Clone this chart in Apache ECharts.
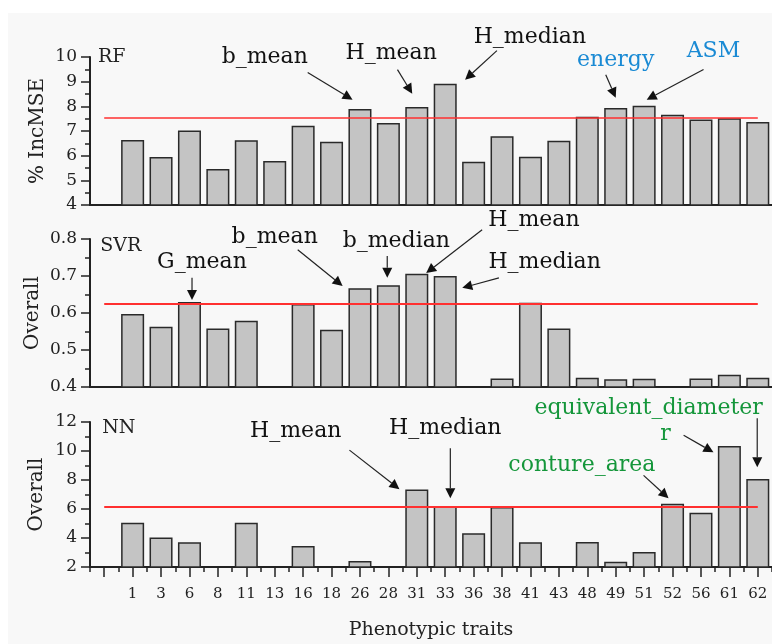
<!DOCTYPE html>
<html><head><meta charset="utf-8">
<script src="https://cdn.jsdelivr.net/npm/echarts@6/dist/echarts.min.js"></script>
<style>html,body{margin:0;padding:0;background:#fff}#c{width:772px;height:644px}</style>
</head><body><div id="c"></div>
<script>
// ---------- data ----------
const categories = ['', '1','3','6','8','11','13','16','18','26','28','31','33','36','38','41','43','48','49','51','52','56','61','62'];
const rfValues  = [null, 6.64, 5.95, 7.02, 5.46, 6.63, 5.78, 7.21, 6.56, 7.89, 7.32, 7.97, 8.92, 5.75, 6.79, 5.96, 6.60, 7.58, 7.93, 8.02, 7.66, 7.47, 7.52, 7.36];
const svrValues = [null, 0.597, 0.563, 0.630, 0.558, 0.579, null, 0.624, 0.555, 0.667, 0.675, 0.706, 0.700, null, 0.423, 0.628, 0.558, 0.425, 0.421, 0.422, null, 0.423, 0.433, 0.425];
const nnValues  = [null, 5.06, 4.03, 3.70, null, 5.05, null, 3.45, null, 2.41, null, 7.34, 6.21, 4.32, 6.14, 3.70, null, 3.72, 2.37, 3.03, 6.37, 5.75, 10.34, 8.07];
const thresholds = [7.52, 0.624, 6.14];
const panelNames = ['RF', 'SVR', 'NN'];
const yAxisNames = ['% IncMSE', 'Overall', 'Overall'];
const yRanges = [[4, 10, 1], [0.4, 0.8, 0.1], [2, 12, 2]];
const xAxisName = 'Phenotypic traits';

// annotations: [panel, text, colour, textPos [catIndex, value], arrows [[from],[to]]...]
const annotations = [
  [0, 'b_mean',   '#111', [5.65, 9.98],  [[[7.16, 9.37], [8.74, 8.27]]]],
  [0, 'H_mean',   '#111', [10.1, 10.14], [[[10.32, 9.49], [10.84, 8.51]]]],
  [0, 'H_median', '#111', [14.98, 10.79],[[[13.82, 10.26], [12.70, 9.08]]]],
  [0, 'energy',   '#1a8ad4', [18.0, 9.85], [[[17.65, 9.28], [18.0, 8.35]]]],
  [0, 'ASM',      '#1a8ad4', [21.44, 10.22], [[[21.09, 9.49], [19.09, 8.27]]]],
  [1, 'b_mean',   '#111', [6.0, 0.8035], [[[6.81, 0.771], [8.39, 0.673]]]],
  [1, 'G_mean',   '#111', [3.44, 0.738], [[[3.09, 0.695], [3.09, 0.635]]]],
  [1, 'b_median', '#111', [10.28, 0.793],[[[9.96, 0.754], [9.96, 0.695]]]],
  [1, 'H_mean',   '#111', [15.12, 0.8497],[[[13.3, 0.825], [11.33, 0.708]]]],
  [1, 'H_median', '#111', [15.5, 0.738], [[[13.89, 0.695], [12.6, 0.668]]]],
  [2, 'H_mean',   '#111', [6.74, 11.36], [[[8.63, 10.06], [10.39, 7.37]]]],
  [2, 'H_median', '#111', [12.0, 11.57], [[[12.18, 10.19], [12.18, 6.74]]]],
  [2, 'conture_area', '#14963a', [16.81, 9.01], [[[18.98, 8.32], [19.86, 6.74]]]],
  [2, 'equivalent_diameter', '#14963a', [19.16, 12.94], [[[20.39, 11.08], [21.44, 9.91]], [[22.98, 12.26], [22.98, 8.88]]]],
  [2, 'r',        '#14963a', [19.75, 11.15], []]
];
const panelLabelPos = [[-0.22, 10.0], [-0.14, 0.782], [-0.07, 11.57]];

// ---------- chart ----------
const FONT = '"DejaVu Serif", "Liberation Serif", serif';
const INK = '#222';
const chart = echarts.init(document.getElementById('c'), null, {renderer: 'canvas'});
const grids = [
  {left: 90, width: 684, top: 57, height: 148},
  {left: 90, width: 684, top: 239, height: 148},
  {left: 90, width: 684, top: 422, height: 145}
];
const nameGaps = [42, 47, 43];
const seriesData = [rfValues, svrValues, nnValues];

const xAxes = [];
const yAxes = [];
const series = [];
for (let i = 0; i < 3; i++) {
  const bottom = i === 2;
  xAxes.push({
    type: 'category', gridIndex: i, data: categories, boundaryGap: true,
    axisLine: {show: true, onZero: false, lineStyle: {color: INK, width: 2}},
    axisTick: {show: bottom, alignWithLabel: true, interval: 0, length: 10, lineStyle: {color: INK, width: 1.5}},
    axisLabel: {show: bottom, interval: 0, margin: 20, color: INK, fontFamily: FONT, fontSize: 15},
    splitLine: {show: false},
    name: bottom ? xAxisName : '', nameLocation: 'middle', nameGap: 54, nameMoveOverlap: false,
    nameTextStyle: {fontFamily: FONT, fontSize: 19, color: INK}
  });
  yAxes.push({
    type: 'value', gridIndex: i, min: yRanges[i][0], max: yRanges[i][1], interval: yRanges[i][2],
    axisLine: {show: true, lineStyle: {color: INK, width: 2}},
    axisTick: {show: true, length: 9, lineStyle: {color: INK, width: 1.5}},
    minorTick: {show: true, splitNumber: 2, length: 5, lineStyle: {color: INK, width: 1.5}},
    axisLabel: {margin: 13, color: INK, fontFamily: FONT, fontSize: 17,
      formatter: v => (i === 1 ? v.toFixed(1) : String(Math.round(v)))},
    splitLine: {show: false},
    name: yAxisNames[i], nameLocation: 'middle', nameGap: nameGaps[i], nameMoveOverlap: false,
    nameTextStyle: {fontFamily: FONT, fontSize: 20, color: INK}
  });
  series.push({
    type: 'bar', xAxisIndex: i, yAxisIndex: i, data: seriesData[i],
    barCategoryGap: '19%', clip: true,
    itemStyle: {color: '#c4c4c4', borderColor: '#2a2a2a', borderWidth: 1.5},
    markLine: {
      silent: true, symbol: ['none', 'none'], label: {show: false},
      lineStyle: {color: '#ff3030', width: i === 0 ? 1.6 : 2.2, type: 'solid'},
      data: [[{coord: [0, thresholds[i]]}, {coord: [categories.length - 1, thresholds[i]]}]]
    }
  });
}
// extra axis for the short boundary ticks of the bottom panel
xAxes.push({
  type: 'category', gridIndex: 2, data: categories, boundaryGap: true, position: 'bottom',
  axisLine: {show: false, onZero: false},
  axisTick: {show: true, interval: 0, length: 5, lineStyle: {color: INK, width: 1.5}},
  axisLabel: {show: false}, splitLine: {show: false}
});

chart.setOption({
  backgroundColor: '#ffffff',
  animation: false,
  grid: grids,
  xAxis: xAxes,
  yAxis: yAxes,
  series: series
});

// ---------- annotations placed through the axes ----------
function toPx(g, k, v) {
  const a = chart.convertToPixel({xAxisIndex: g, yAxisIndex: g}, [0, v]);
  const b = chart.convertToPixel({xAxisIndex: g, yAxisIndex: g}, [1, v]);
  return [a[0] + k * (b[0] - a[0]), a[1]];
}
const graphics = [{
  type: 'rect', z: -100, silent: true,
  shape: {x: 8, y: 13, width: 764, height: 631},
  style: {fill: '#f8f8f8'}
}];
for (let i = 0; i < 3; i++) {
  const p = toPx(i, panelLabelPos[i][0], panelLabelPos[i][1]);
  graphics.push({type: 'text', z: 50, silent: true, x: p[0], y: p[1],
    style: {text: panelNames[i], fill: INK, font: '19px ' + FONT, align: 'left', verticalAlign: 'middle'}});
}
annotations.forEach(([g, text, col, tp, arrows]) => {
  const p = toPx(g, tp[0], tp[1]);
  graphics.push({type: 'text', z: 50, silent: true, x: p[0], y: p[1],
    style: {text: text, fill: col, font: '22px ' + FONT, align: 'center', verticalAlign: 'middle'}});
  arrows.forEach(([from, to]) => {
    const A = toPx(g, from[0], from[1]);
    const B = toPx(g, to[0], to[1]);
    const dx = B[0] - A[0], dy = B[1] - A[1];
    const len = Math.hypot(dx, dy);
    const ux = dx / len, uy = dy / len;
    const hl = 10, hw = 5;
    const base = [B[0] - ux * hl, B[1] - uy * hl];
    graphics.push({type: 'line', z: 50, silent: true,
      shape: {x1: A[0], y1: A[1], x2: base[0], y2: base[1]},
      style: {stroke: '#222', lineWidth: 1.2}});
    graphics.push({type: 'polygon', z: 50, silent: true,
      shape: {points: [[B[0], B[1]], [base[0] - uy * hw, base[1] + ux * hw], [base[0] + uy * hw, base[1] - ux * hw]]},
      style: {fill: '#111'}});
  });
});
chart.setOption({graphic: graphics});
</script>
</body></html>
